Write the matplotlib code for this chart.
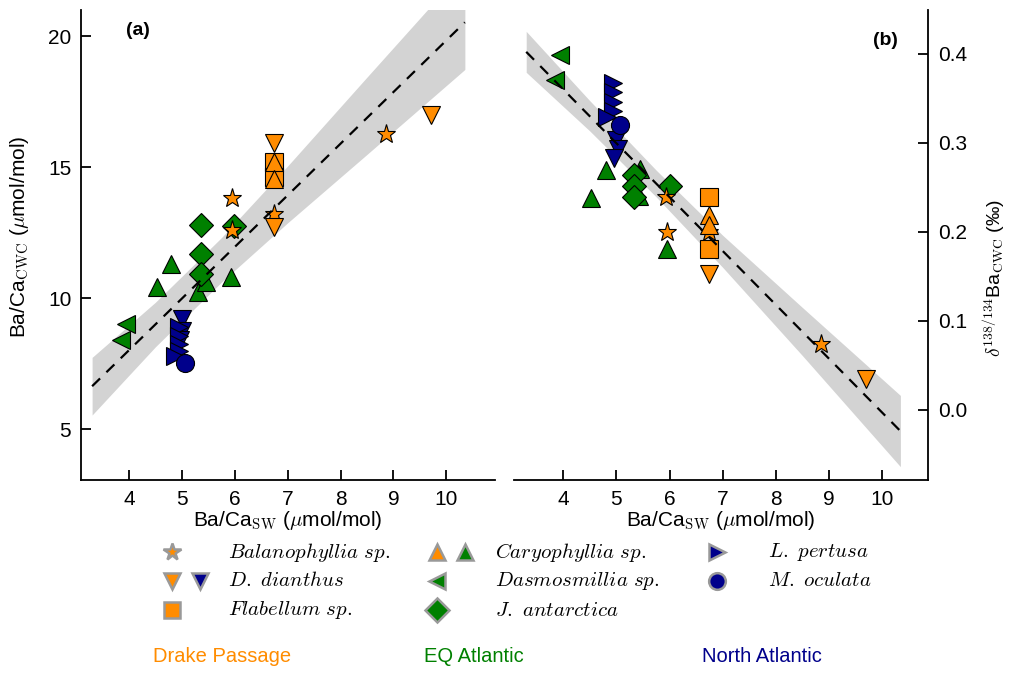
import numpy as np
import matplotlib
matplotlib.use("Agg")
import matplotlib.pyplot as plt

plt.rcParams['font.family'] = ['Liberation Sans', 'DejaVu Sans']
plt.rcParams['mathtext.fontset'] = 'cm'

# colours
c_dp = '#FF8C00'   # Drake Passage
c_eq = '#008000'   # EQ Atlantic
c_na = '#00008B'   # North Atlantic

# ---- panel (a): Ba/Ca_CWC vs Ba/Ca_SW ----
bal_dp_x = [5.95, 5.95, 6.74, 8.86]
bal_dp_a = [13.84, 12.6, 13.2, 16.28]
dd_dp_x = [6.74, 9.71, 6.74]
dd_dp_a = [15.94, 17.0, 12.7]
fla_x = [6.74, 6.74]
fla_a = [15.18, 14.64]
car_dp_x = [6.74, 6.74]
car_dp_a = [15.2, 14.55]

car_eq_x = [4.79, 4.53, 5.93, 5.31, 5.45]
car_eq_a = [11.29, 10.41, 10.8, 10.22, 10.6]
das_x = [3.94, 3.85]
das_a = [9.0, 8.39]
jan_x = [5.36, 5.98, 5.36, 5.36]
jan_a = [12.78, 12.74, 11.7, 10.94]

lp_x = [4.95, 4.95, 4.95, 4.95, 4.87]
lp_a = [8.9, 8.55, 8.25, 8.0, 7.8]
mo_x = [5.06]
mo_a = [7.52]
dd_na_x = [5.0, 5.0, 4.97]
dd_na_a = [9.2, 8.75, 8.4]

# fit line and band
fit_a_x = [3.3, 4.5, 5.75, 7.0, 8.5, 10.35]
fit_a_y = [6.64, 9.0, 11.47, 13.93, 16.89, 20.53]
band_a_lo = [5.54, 8.15, 10.62, 12.88, 15.49, 18.73]
band_a_hi = [7.74, 9.85, 12.32, 15.05, 18.44, 22.6]

# ---- panel (b): d138/134Ba_CWC vs Ba/Ca_SW ----
bal_b_x = [5.96, 5.94, 6.75, 8.85]
bal_b = [0.200, 0.239, 0.200, 0.074]
dd_dp_b_x = [6.75, 9.70]
dd_dp_b = [0.152, 0.034]
fla_b_x = [6.75, 6.75]
fla_b = [0.239, 0.181]
car_dp_b_x = [6.75, 6.75]
car_dp_b = [0.219, 0.208]

car_eq_b_x = [4.81, 4.53, 5.96, 5.43, 5.45]
car_eq_b = [0.269, 0.238, 0.180, 0.240, 0.270]
das_b_x = [3.94, 3.85]
das_b = [0.399, 0.370]
jan_b_x = [5.34, 5.34, 5.34, 6.0]
jan_b = [0.264, 0.251, 0.239, 0.251]

lp_b_x = [4.93, 4.93, 4.93, 4.93, 4.83]
lp_b = [0.367, 0.357, 0.346, 0.336, 0.329]
mo_b_x = [5.06]
mo_b = [0.320]
dd_na_b_x = [5.0, 5.02, 4.95]
dd_na_b = [0.303, 0.293, 0.283]

fit_b_x = [3.3, 4.5, 5.75, 7.0, 8.5, 10.35]
fit_b_y = [0.402, 0.330, 0.254, 0.178, 0.088, -0.024]
band_b_lo = [0.379, 0.313, 0.239, 0.160, 0.061, -0.064]
band_b_hi = [0.425, 0.347, 0.269, 0.196, 0.115, 0.016]

W, H = 1009, 675
fig = plt.figure(figsize=(W / 100, H / 100), dpi=100)
ax1 = fig.add_axes([81 / W, 1 - 480 / H, 414 / W, 470 / H])
ax2 = fig.add_axes([514 / W, 1 - 480 / H, 414 / W, 470 / H])

mk = dict(linestyle='', markeredgecolor='black', markeredgewidth=0.8, zorder=3)


def draw(ax, groups, fx, fy, lo, hi):
    ax.fill_between(fx, lo, hi, color='#d3d3d3', lw=0, zorder=1)
    for x, y, m, c, s in groups:
        ax.plot(x, y, marker=m, color=c, ms=s, **mk)
    ax.plot([fx[0], fx[-1]], [fy[0], fy[-1]], color='black', lw=1.6,
            dashes=(5, 4), zorder=4)


draw(ax1, [
    (car_eq_x, car_eq_a, '^', c_eq, 13.5),
    (jan_x, jan_a, 'D', c_eq, 12.5),
    (das_x, das_a, '<', c_eq, 13.5),
    (bal_dp_x, bal_dp_a, '*', c_dp, 14),
    (dd_dp_x, dd_dp_a, 'v', c_dp, 13.5),
    (fla_x, fla_a, 's', c_dp, 12.5),
    (car_dp_x, car_dp_a, '^', c_dp, 13.5),
    (dd_na_x, dd_na_a, 'v', c_na, 13.5),
    (lp_x, lp_a, '>', c_na, 13.5),
    (mo_x, mo_a, 'o', c_na, 13),
], fit_a_x, fit_a_y, band_a_lo, band_a_hi)

draw(ax2, [
    (car_eq_b_x, car_eq_b, '^', c_eq, 13.5),
    (jan_b_x, jan_b, 'D', c_eq, 12.5),
    (das_b_x, das_b, '<', c_eq, 13.5),
    (bal_b_x, bal_b, '*', c_dp, 14),
    (dd_dp_b_x, dd_dp_b, 'v', c_dp, 13.5),
    (fla_b_x, fla_b, 's', c_dp, 12.5),
    (car_dp_b_x, car_dp_b, '^', c_dp, 13.5),
    (dd_na_b_x, dd_na_b, 'v', c_na, 13.5),
    (lp_b_x, lp_b, '>', c_na, 13.5),
    (mo_b_x, mo_b, 'o', c_na, 13),
], fit_b_x, fit_b_y, band_b_lo, band_b_hi)

ax1.set_xlim(3.09, 10.92)
ax1.set_ylim(3.06, 21.0)
ax2.set_xlim(3.07, 10.87)
ax2.set_ylim(-0.079, 0.449)
for ax in (ax1, ax2):
    ax.set_xticks(range(4, 11))
    ax.spines['top'].set_visible(False)
    for s in ax.spines.values():
        s.set_linewidth(1.3)
    ax.tick_params(direction='in', length=7, width=1.3, labelsize=15, pad=7)
    ax.set_facecolor('none')
    ax.set_xlabel(r'Ba/Ca$_{\mathrm{SW}}$ ($\mu$mol/mol)', fontsize=15, labelpad=0)
ax1.spines['right'].set_visible(False)
ax1.set_yticks([5, 10, 15, 20])
ax2.spines['left'].set_visible(False)
ax2.yaxis.tick_right()
ax2.yaxis.set_label_position('right')
ax2.set_yticks([0.0, 0.1, 0.2, 0.3, 0.4])
ax2.set_yticklabels(['0.0', '0.1', '0.2', '0.3', '0.4'])

ax1.set_ylabel(r'Ba/Ca$_{\mathrm{CWC}}$ ($\mu$mol/mol)', fontsize=15)
ax1.yaxis.set_label_coords(-0.121, 0.517)
ax2.set_ylabel(r'$\delta^{138/134}$Ba$_{\mathrm{CWC}}$ (‰)', fontsize=14, rotation=90)
ax2.yaxis.set_label_coords(1.126, 0.43)

ax1.text(0.138, 0.957, '(a)', transform=ax1.transAxes, fontsize=14,
         fontweight='bold', ha='center', va='center')
ax2.text(0.896, 0.936, '(b)', transform=ax2.transAxes, fontsize=14,
         fontweight='bold', ha='center', va='center')

# legend drawn in figure pixel space
lg = fig.add_axes([0, 0, 1, 1])
lg.set_xlim(0, W)
lg.set_ylim(H, 0)
lg.axis('off')
leg_mk = dict(linestyle='', markeredgecolor='#999999', markeredgewidth=1.8)
rows = [552, 581, 610]
keys = [
    (172, rows[0], '*', c_dp, 13), (172, rows[1], 'v', c_dp, 12), (200, rows[1], 'v', c_na, 12),
    (172, rows[2], 's', c_dp, 11.5),
    (437, rows[0], '^', c_dp, 12), (465, rows[0], '^', c_eq, 12), (437, rows[1], '<', c_eq, 12),
    (437, rows[2], 'D', c_eq, 12),
    (717, rows[0], '>', c_na, 12), (717, rows[1], 'o', c_na, 12),
]
for x, y, m, c, s in keys:
    lg.plot([x], [y], marker=m, color=c, ms=s, **leg_mk)
names = [
    (228, rows[0], r'$\mathit{Balanophyllia\ sp.}$'),
    (228, rows[1], r'$\mathit{D.\ dianthus}$'),
    (228, rows[2], r'$\mathit{Flabellum\ sp.}$'),
    (495, rows[0], r'$\mathit{Caryophyllia\ sp.}$'),
    (495, rows[1], r'$\mathit{Dasmosmillia\ sp.}$'),
    (495, rows[2], r'$\mathit{J.\ antarctica}$'),
    (768, rows[0], r'$\mathit{L.\ pertusa}$'),
    (768, rows[1], r'$\mathit{M.\ oculata}$'),
]
for x, y, t in names:
    lg.text(x, y, t, fontsize=15, ha='left', va='center')
for x, t, c in [(222, 'Drake Passage', c_dp), (474, 'EQ Atlantic', c_eq),
                (762, 'North Atlantic', c_na)]:
    lg.text(x, 656, t, fontsize=14.5, color=c, ha='center', va='center')

fig.savefig('out.png', dpi=100)
